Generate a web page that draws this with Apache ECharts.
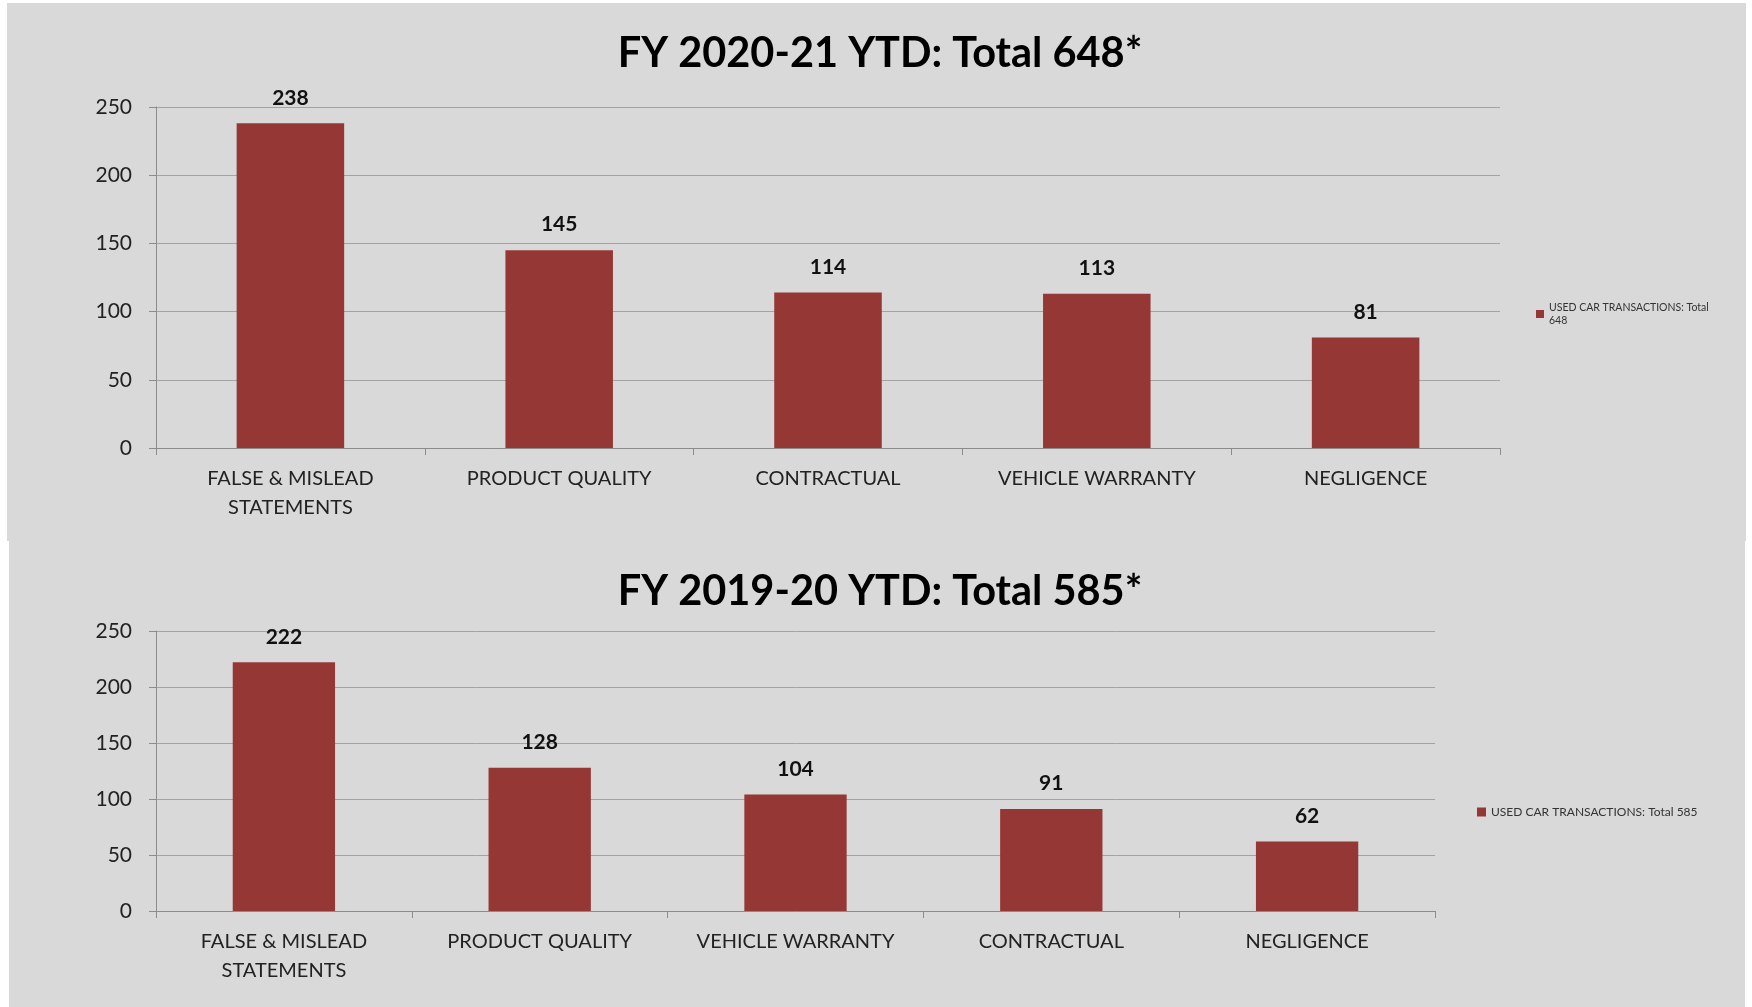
<!DOCTYPE html>
<html>
<head>
<meta charset="utf-8">
<script src="https://cdn.jsdelivr.net/npm/echarts@6/dist/echarts.min.js"></script>
<style>
  html, body { margin: 0; padding: 0; background: #fff; }
  #chart { width: 1752px; height: 1007px; }
</style>
</head>
<body>
<div id="chart"></div>
<script>
  // FY 2020-21 panel
  const cats2021 = ["FALSE & MISLEAD\nSTATEMENTS", "PRODUCT QUALITY", "CONTRACTUAL", "VEHICLE WARRANTY", "NEGLIGENCE"];
  const vals2021 = [238, 145, 114, 113, 81];
  const title2021 = "FY 2020-21 YTD: Total 648*";
  const name2021 = "USED CAR TRANSACTIONS: Total 648";

  // FY 2019-20 panel
  const cats1920 = ["FALSE & MISLEAD\nSTATEMENTS", "PRODUCT QUALITY", "VEHICLE WARRANTY", "CONTRACTUAL", "NEGLIGENCE"];
  const vals1920 = [222, 128, 104, 91, 62];
  const title1920 = "FY 2019-20 YTD: Total 585*";
  const name1920 = "USED CAR TRANSACTIONS: Total 585";

  const yTicks = { min: 0, max: 250, interval: 50 };

  const BAR = "#953735";
  const PANEL = "#d9d9d9";
  const FONT = "Lato, 'Open Sans', sans-serif";
  const AXIS = "#8c8c8c";

  const chart = echarts.init(document.getElementById("chart"), null, { renderer: "canvas" });

  function xAxis(idx, cats) {
    return {
      type: "category",
      gridIndex: idx,
      data: cats,
      axisLine: { show: true, lineStyle: { color: AXIS, width: 1 } },
      axisTick: { show: true, length: 7, lineStyle: { color: AXIS } },
      axisLabel: { color: "#222", fontSize: 20, fontFamily: FONT, margin: 16, lineHeight: 29, interval: 0 }
    };
  }

  function yAxis(idx) {
    return {
      type: "value",
      gridIndex: idx,
      min: yTicks.min,
      max: yTicks.max,
      interval: yTicks.interval,
      axisLine: { show: true, lineStyle: { color: AXIS, width: 1 } },
      axisTick: { show: true, length: 7, lineStyle: { color: AXIS } },
      axisLabel: { color: "#222", fontSize: 21, fontFamily: FONT, margin: 24 },
      splitLine: { show: true, lineStyle: { color: "#a3a3a3", width: 1 } }
    };
  }

  function bars(idx, name, vals) {
    return {
      name: name,
      type: "bar",
      xAxisIndex: idx,
      yAxisIndex: idx,
      data: vals,
      barWidth: "40%",
      itemStyle: { color: BAR },
      label: {
        show: true,
        position: "top",
        distance: 15,
        color: "#111",
        fontWeight: "bold",
        fontSize: 21,
        fontFamily: FONT
      }
    };
  }

  chart.setOption({
    animation: false,
    backgroundColor: "#fff",
    graphic: [
      { type: "rect", shape: { x: 7, y: 3, width: 1739, height: 538 }, style: { fill: PANEL }, z: -10 },
      { type: "rect", shape: { x: 9, y: 540, width: 1736, height: 467 }, style: { fill: PANEL }, z: -10 }
    ],
    title: [
      {
        text: title2021, left: 875, top: 28, textAlign: "center",
        textStyle: { fontSize: 41.5, fontWeight: "bold", color: "#000", fontFamily: FONT }
      },
      {
        text: title1920, left: 875, top: 566, textAlign: "center",
        textStyle: { fontSize: 41.5, fontWeight: "bold", color: "#000", fontFamily: FONT }
      }
    ],
    legend: [
      {
        data: [name2021], left: 1531, top: 296, orient: "vertical",
        itemWidth: 8, itemHeight: 8, itemGap: 3, icon: "rect",
        textStyle: { fontSize: 10.5, color: "#333", fontFamily: FONT, width: 168, overflow: "break", lineHeight: 13 }
      },
      {
        data: [name1920], left: 1472, top: 801, orient: "vertical",
        itemWidth: 9, itemHeight: 9, itemGap: 2, icon: "rect",
        textStyle: { fontSize: 12, color: "#333", fontFamily: FONT }
      }
    ],
    grid: [
      { left: 156, right: 252, top: 107, bottom: 559 },
      { left: 156, right: 317, top: 631, bottom: 96 }
    ],
    xAxis: [xAxis(0, cats2021), xAxis(1, cats1920)],
    yAxis: [yAxis(0), yAxis(1)],
    series: [bars(0, name2021, vals2021), bars(1, name1920, vals1920)]
  });

  window.addEventListener("resize", () => chart.resize());
</script>
</body>
</html>
